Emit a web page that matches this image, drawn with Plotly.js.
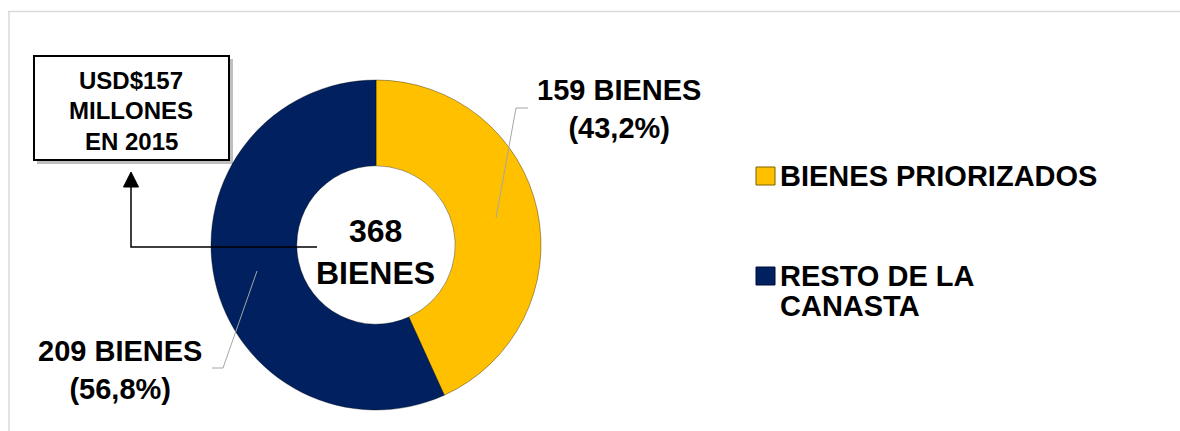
<!DOCTYPE html>
<html>
<head>
<meta charset="utf-8">
<script src="https://cdn.plot.ly/plotly-3.0.1.min.js"></script>
<style>html,body{margin:0;padding:0;background:#fff;}#chart{width:1180px;height:431px;}</style>
</head>
<body>
<div id="chart"></div>
<script>
// ---- data ----
const categories = ["BIENES PRIORIZADOS", "RESTO DE LA<br>CANASTA"];
const values = [159, 209];
const colors = ["#FFC000", "#002060"];
const unitLabel = "BIENES";
const boxText = ["USD$157", "MILLONES", "EN 2015"];

const W = 1180, H = 431;
const FONT = "Liberation Sans, Arial, Helvetica, sans-serif";
const px = x => x / W;
const py = y => 1 - y / H;

const total = values.reduce((a, b) => a + b, 0);
const pctText = values.map(v => (v / total * 100).toFixed(1).replace(".", ","));

// pie geometry (pixels)
const cx = 376, cy = 245, R = 165;

const trace = {
  type: "pie",
  values: values,
  labels: categories,
  marker: {colors: colors, line: {color: "rgba(0,0,0,0.35)", width: 1}},
  hole: 0.48,
  sort: false,
  direction: "clockwise",
  rotation: 0,
  textinfo: "none",
  hoverinfo: "none",
  showlegend: false,
  domain: {x: [px(cx - R), px(cx + R)], y: [py(cy + R), py(cy - R)]}
};

const annotations = [];
const shapes = [];

// frame
shapes.push({type: "line", xref: "paper", yref: "paper", x0: px(8), x1: px(1180), y0: py(11.5), y1: py(11.5), line: {color: "#d9d9d9", width: 1.5}, layer: "below"});
shapes.push({type: "line", xref: "paper", yref: "paper", x0: px(9), x1: px(9), y0: py(11), y1: py(431), line: {color: "#d9d9d9", width: 1.5}, layer: "below"});

// data labels
const labelPos = [{x: 619, y: 109}, {x: 120, y: 370}];
values.forEach((v, i) => {
  annotations.push({
    xref: "paper", yref: "paper", x: px(labelPos[i].x), y: py(labelPos[i].y),
    xanchor: "center", yanchor: "middle", showarrow: false,
    text: v + " " + unitLabel + "<br>(" + pctText[i] + "%)",
    font: {family: FONT, size: 29, color: "#000", weight: "bold"}
  });
});

// leader lines
shapes.push({type: "path", xref: "paper", yref: "paper",
  path: `M ${px(496)} ${py(218)} L ${px(516)} ${py(108)} L ${px(528)} ${py(108)}`,
  line: {color: "#a6a6a6", width: 1}});
shapes.push({type: "path", xref: "paper", yref: "paper",
  path: `M ${px(257)} ${py(271)} L ${px(223)} ${py(368)} L ${px(212)} ${py(368)}`,
  line: {color: "#a6a6a6", width: 1}});

// center total
annotations.push({
  xref: "paper", yref: "paper", x: px(375), y: py(252),
  xanchor: "center", yanchor: "middle", showarrow: false,
  text: total + "<br>" + unitLabel,
  font: {family: FONT, size: 32, color: "#000", weight: "bold"}
});

// box with shadow
shapes.push({type: "rect", xref: "paper", yref: "paper",
  x0: px(37), x1: px(233), y0: py(59), y1: py(164),
  fillcolor: "rgba(0,0,0,0.25)", line: {width: 0}});
shapes.push({type: "rect", xref: "paper", yref: "paper",
  x0: px(34), x1: px(229), y0: py(56), y1: py(160),
  fillcolor: "#ffffff", line: {color: "#000", width: 2}});
boxText.forEach((t, i) => {
  annotations.push({
    xref: "paper", yref: "paper", x: px(131), y: py(80 + i * 30.5),
    xanchor: "center", yanchor: "middle", showarrow: false, text: t,
    font: {family: FONT, size: 24, color: "#000", weight: "bold"}
  });
});

// arrow connector
shapes.push({type: "path", xref: "paper", yref: "paper",
  path: `M ${px(317)} ${py(247)} L ${px(131)} ${py(247)} L ${px(131)} ${py(186)}`,
  line: {color: "#000", width: 1.5}});
shapes.push({type: "path", xref: "paper", yref: "paper",
  path: `M ${px(131)} ${py(172)} L ${px(123.5)} ${py(187)} L ${px(138.5)} ${py(187)} Z`,
  fillcolor: "#000", line: {color: "#000", width: 1}});

// legend
const legendY = [176, 276];
categories.forEach((c, i) => {
  const y = legendY[i];
  shapes.push({type: "rect", xref: "paper", yref: "paper",
    x0: px(756), x1: px(775), y0: py(y - 9), y1: py(y + 9),
    fillcolor: colors[i], line: {color: i === 0 ? "#7f6000" : "#000c30", width: 1}});
  c.split("<br>").forEach((line, j) => {
    annotations.push({
      xref: "paper", yref: "paper", x: px(778), y: py(y + j * 30),
      xanchor: "left", yanchor: "middle", showarrow: false, text: line,
      font: {family: FONT, size: 29, color: "#000", weight: "bold"}
    });
  });
});

const layout = {
  width: W, height: H,
  margin: {l: 0, r: 0, t: 0, b: 0},
  paper_bgcolor: "#ffffff",
  plot_bgcolor: "#ffffff",
  showlegend: false,
  annotations: annotations,
  shapes: shapes
};

Plotly.newPlot("chart", [trace], layout, {staticPlot: true});
</script>
</body>
</html>
